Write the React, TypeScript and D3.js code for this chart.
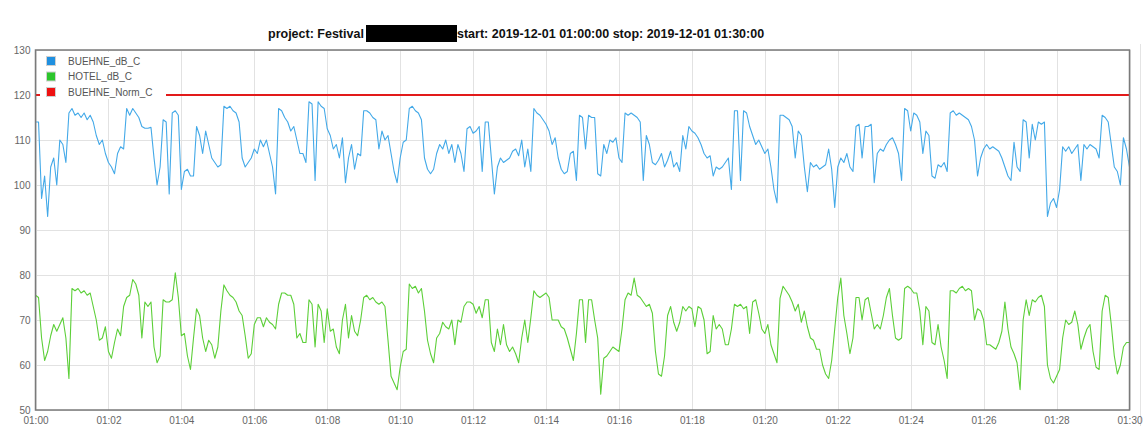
import { useEffect, useRef } from 'react';
import * as d3 from 'd3';

// measurement window, one sample every 5 s
const START = new Date(2019, 11, 1, 1, 0, 0);
const STOP = new Date(2019, 11, 1, 1, 30, 0);
const SAMPLE_SECONDS = 5;

const buehneDb = [
  114, 114, 97, 102, 93, 104, 106, 100, 110, 109, 105, 116, 117, 115.5, 116, 115, 116, 114.5, 115.5, 114,
  111, 109, 110, 107, 105, 104, 102.5, 107, 108.5, 108, 117, 115.5, 117, 116, 115, 113, 112.6, 112.6, 112.8, 106,
  100, 104, 114.5, 114, 98, 116, 116.5, 115.5, 99, 103, 103.5, 102, 102, 113, 111, 107, 112, 109, 106, 105,
  104, 104.5, 117.5, 117, 117.5, 116.5, 116, 114, 106, 104, 105, 106, 108, 107, 110, 108.5, 110, 107, 104, 98,
  117, 116.5, 115, 114, 112, 113, 110, 107, 107, 105, 118.5, 118, 101, 118.5, 117.5, 117, 112.5, 111, 108, 109,
  106, 110.5, 100.5, 106, 109, 103.5, 107, 106.5, 116.5, 116.5, 116, 115, 114.5, 108, 112, 110, 111, 107, 103, 100.5,
  106, 109.5, 110, 117, 117.5, 116.5, 116, 114.5, 106, 103.5, 102.5, 103.5, 107, 109, 108, 110, 107, 109, 105, 109,
  107, 103, 112.5, 113, 111.5, 112, 113, 103, 114, 114, 106, 98, 104, 106, 105, 105.5, 106, 107.5, 108, 106.5,
  110, 104, 108, 103, 117, 116, 115.5, 114.5, 113.5, 112, 109, 110.5, 106, 103.5, 102.5, 103, 107, 107.5, 101, 115.5,
  115, 108, 115.5, 115, 115, 102.5, 102, 109, 107, 110, 109.5, 110.5, 106, 105, 116, 115.5, 116, 115.5, 115, 114,
  101, 111, 109, 105, 104.5, 105.5, 107, 104, 105.5, 107.5, 104, 105, 103, 111, 108, 113, 112, 111.5, 110.5, 109,
  107, 106, 106.5, 102, 104, 103.5, 104, 105, 106, 99, 116.5, 116.5, 101, 116.5, 116, 113, 111, 109, 110, 108.5,
  107, 108, 104, 99, 96, 115.5, 115.5, 115, 114.5, 113, 106, 112, 111, 104, 98.5, 105, 104, 104.5, 103.5, 104,
  104.5, 108, 103.5, 95, 104, 106, 105, 107, 104, 103, 113, 113.5, 106, 113, 113, 113.5, 100.5, 107, 108, 107.5,
  109, 110, 110.5, 109, 107, 101, 117, 116.5, 112, 116, 115.5, 114, 107, 112, 111, 102, 101.5, 104.5, 104, 105,
  103, 116, 116.5, 115.5, 116, 115.5, 115, 114.5, 113, 110, 102, 106, 108, 109, 108, 108.5, 108, 107.5, 106, 104,
  102, 101, 109.5, 104, 103, 114.5, 114, 106, 113.5, 110, 114, 113.5, 114, 93, 96, 97, 95, 99, 108.5, 107.5,
  108.5, 107, 108, 109, 101, 109, 108, 109, 108.5, 108, 106, 115.5, 115, 114, 109, 104, 103, 100, 110.5, 108,
  104,
];

const hotelDb = [
  75.5, 75, 66, 61, 63, 66.5, 69, 67.5, 69, 70.5, 66, 57, 77, 76.5, 77, 76, 76.5, 75.5, 76, 73,
  70, 65.5, 66, 68.5, 63, 61.5, 65, 68, 66.5, 73, 75, 75.5, 79, 78, 75.5, 66, 74, 73, 74, 64,
  60.5, 62, 74.5, 74, 74, 74.5, 80.5, 75, 66.5, 67, 62, 59, 66, 72.5, 71, 66, 63, 65.5, 64.5, 61.5,
  64, 72, 77.8, 76.5, 75.5, 75, 74, 72, 71, 66.5, 61.5, 62.5, 69, 70.5, 70.5, 68.5, 70.5, 69.5, 69, 68,
  73.5, 76, 76, 75.5, 75.5, 73.5, 66, 67, 65, 65, 74.5, 73.5, 64, 73.5, 72, 65, 72.5, 67.5, 68, 64,
  62.5, 70, 73.5, 66, 71, 67.5, 66.5, 70, 75, 75.5, 74.5, 75, 74, 73.5, 74, 73, 65.5, 57.5, 56, 54.5,
  59.5, 63, 63.5, 78, 77, 77.5, 76, 77, 72, 65.5, 62.5, 60.5, 66, 67, 69.5, 68.5, 68, 70, 64.5, 70,
  69.5, 73, 74, 74, 73.5, 71.5, 73, 70.5, 74.5, 74.5, 65, 63, 68, 64.5, 69, 64.5, 63, 64, 62.5, 60.5,
  66, 70, 65, 70.5, 76.5, 75.5, 75, 75.5, 76, 75, 70, 70, 70, 68.5, 68, 66, 63.5, 61, 67, 74.5,
  74.5, 65, 74.5, 74.5, 70, 66, 53.5, 61.5, 62, 63, 64, 63.5, 63, 68, 74.5, 76, 75.5, 79.3, 75.5, 75,
  74, 73, 73.5, 71.5, 63, 58, 57.5, 62, 71, 73, 69.5, 67.5, 69.5, 73, 72, 73, 72.5, 68.5, 73, 72.5,
  70, 62.5, 63, 71, 68, 69, 68, 64.5, 64.5, 68, 73.5, 73, 73.5, 72.5, 73, 67, 74, 74.5, 71.5, 68,
  67, 69, 64.5, 62.5, 60.5, 74.8, 77.5, 76.5, 75.5, 74, 72, 73.5, 69.5, 72, 68.5, 66, 65.5, 63.5, 63.5, 60,
  58, 57, 61, 68, 75, 79.3, 71, 67, 62.5, 66, 75, 75, 70, 74.5, 75, 71.5, 68, 69, 68, 71,
  75, 77, 71, 66, 65.5, 66, 77, 77.5, 77, 76, 76, 72, 64.5, 73, 72, 65, 64.5, 69, 64, 61,
  57, 76.5, 76.5, 76, 77, 77.5, 76.5, 77, 76.5, 70, 72.5, 72, 70, 64.5, 64.5, 64, 63.5, 65, 67.5, 74,
  68, 64, 62.5, 60.5, 54.5, 70, 74.5, 71, 74.5, 74, 75, 75.5, 73, 60, 57, 56, 57.5, 59, 66, 70,
  69, 69.5, 72, 69, 63.5, 66, 68, 69, 63, 59.5, 59, 72, 75.5, 75, 69, 62, 58, 60, 64, 65,
  65,
];

const buehneNorm = 120;

const seriesNames = ['BUEHNE_dB_C', 'HOTEL_dB_C', 'BUEHNE_Norm_C'];
const legendColors = ['#1f90e0', '#2cc52c', '#ee1111'];
const lineColors = ['#43a9e8', '#5ccf38', '#e21a1a'];
const yTicks = [50, 60, 70, 80, 90, 100, 110, 120, 130];

export default function App() {
  const ref = useRef<SVGSVGElement | null>(null);

  useEffect(() => {
    if (!ref.current) return;
    const svg = d3.select(ref.current);
    svg.selectAll('*').remove();

    const left = 35.5, right = 1129.5, top = 50, bottom = 410;
    const font = 'Arial, "Liberation Sans", sans-serif';

    const x = d3.scaleTime().domain([START, STOP]).range([left, right]);
    const y = d3.scaleLinear().domain([50, 130]).range([bottom, top]);
    const timeAt = (i: number) => new Date(START.getTime() + i * SAMPLE_SECONDS * 1000);

    // faint page frame on the right
    svg.append('line')
      .attr('x1', 1140.5).attr('x2', 1140.5).attr('y1', 44).attr('y2', 426)
      .attr('stroke', '#e4e4e4');

    // title
    const title = svg.append('g')
      .attr('font-family', font).attr('font-weight', 'bold').attr('font-size', 12.5).attr('fill', '#111');
    title.append('text').attr('x', 268).attr('y', 38).text('project: Festival');
    title.append('rect').attr('x', 366).attr('y', 25).attr('width', 91).attr('height', 17).attr('fill', '#000');
    title.append('text').attr('x', 457).attr('y', 38).text('start: 2019-12-01 01:00:00 stop: 2019-12-01 01:30:00');

    // grid
    const grid = svg.append('g');
    grid.selectAll('line.h').data(yTicks).enter().append('line')
      .attr('x1', left).attr('x2', right)
      .attr('y1', d => y(d) + 0.5).attr('y2', d => y(d) + 0.5)
      .attr('stroke', '#e2e2e2');
    grid.selectAll('line.v').data(x.ticks(d3.timeMinute.every(2)!)).enter().append('line')
      .attr('x1', d => Math.round(x(d)) + 0.5).attr('x2', d => Math.round(x(d)) + 0.5)
      .attr('y1', top).attr('y2', bottom)
      .attr('stroke', '#e2e2e2');

    // axes labels
    const yAxis = svg.append('g')
      .attr('transform', `translate(${left},0)`)
      .call(d3.axisLeft(y).tickValues(yTicks).tickSize(0).tickPadding(5));
    yAxis.select('.domain').remove();
    yAxis.selectAll('text').attr('font-family', font).attr('font-size', 10).attr('fill', '#666');

    const xAxis = svg.append('g')
      .attr('transform', `translate(0,${bottom})`)
      .call(
        d3.axisBottom(x)
          .ticks(d3.timeMinute.every(2)!)
          .tickFormat(d => d3.timeFormat('%H:%M')(d as Date))
          .tickSize(0)
          .tickPadding(7)
      );
    xAxis.select('.domain').remove();
    xAxis.selectAll('text').attr('font-family', font).attr('font-size', 10).attr('fill', '#666');

    // series
    const line = d3.line<number>()
      .x((_, i) => x(timeAt(i)))
      .y(d => y(d));

    svg.append('path').datum(hotelDb)
      .attr('fill', 'none').attr('stroke', lineColors[1]).attr('stroke-width', 1.1)
      .attr('stroke-linejoin', 'round').attr('d', line);
    svg.append('path').datum(buehneDb)
      .attr('fill', 'none').attr('stroke', lineColors[0]).attr('stroke-width', 1.1)
      .attr('stroke-linejoin', 'round').attr('d', line);

    svg.append('line')
      .attr('x1', x(START)).attr('x2', x(STOP))
      .attr('y1', y(buehneNorm)).attr('y2', y(buehneNorm))
      .attr('stroke', lineColors[2]).attr('stroke-width', 2);

    // plot frame
    svg.append('rect')
      .attr('x', left).attr('y', top).attr('width', right - left).attr('height', bottom - top)
      .attr('fill', 'none').attr('stroke', '#7a7a7a').attr('stroke-width', 1.5);

    // legend
    const legend = svg.append('g');
    legend.append('rect')
      .attr('x', 40).attr('y', 52).attr('width', 126).attr('height', 47).attr('fill', '#fff');
    const items = legend.selectAll('g.item').data(seriesNames).enter().append('g')
      .attr('transform', (_, i) => `translate(0,${61 + i * 15.5})`);
    items.append('rect')
      .attr('x', 46.5).attr('y', -4.5).attr('width', 9).attr('height', 9)
      .attr('fill', (_, i) => legendColors[i]).attr('stroke', '#d0d0d0').attr('stroke-width', 1);
    items.append('text')
      .attr('x', 68).attr('y', 0).attr('dy', '0.35em')
      .attr('font-family', font).attr('font-size', 10).attr('fill', '#555')
      .text(d => d);
  }, []);

  return (
    <svg
      ref={ref}
      width={1143}
      height={426}
      style={{ position: 'absolute', left: 0, top: 0, background: '#fff' }}
    />
  );
}
